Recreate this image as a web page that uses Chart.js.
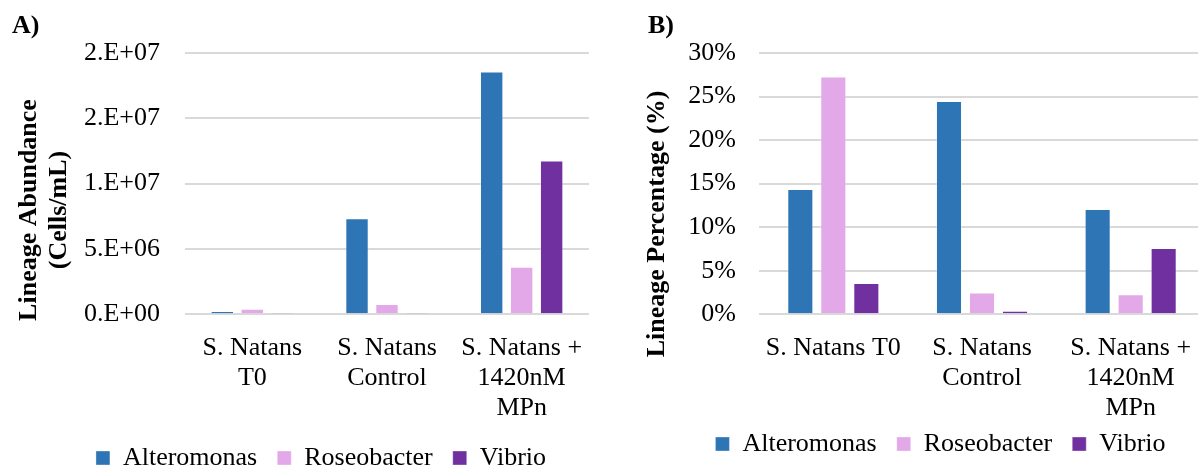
<!DOCTYPE html>
<html>
<head>
<meta charset="utf-8">
<script src="https://cdn.jsdelivr.net/npm/chart.js@4"></script>
<style>
  html, body { margin: 0; padding: 0; background: #fff; overflow: hidden; width: 1198px; height: 471px; }
  #wrapA { position: absolute; left: 0; top: 0; }
  #wrapB { position: absolute; left: 600px; top: 0; }
  canvas { display: block; }
</style>
</head>
<body>
<div id="wrapA"><canvas id="chartA" width="589" height="481" style="width:589px;height:481px"></canvas></div>
<div id="wrapB"><canvas id="chartB" width="605" height="481" style="width:605px;height:481px"></canvas></div>
<script>
// ---------------- data ----------------
const seriesNames = ["Alteromonas", "Roseobacter", "Vibrio"];
const categoriesA = [["S. Natans", "T0"], ["S. Natans", "Control"], ["S. Natans +", "1420nM", "MPn"]];
const categoriesB = ["S. Natans T0", ["S. Natans", "Control"], ["S. Natans +", "1420nM", "MPn"]];

// Panel A: lineage abundance (cells/mL)
const alteromonasA = [250000, 7360000, 18580000];
const roseobacterA = [430000, 790000, 3640000];
const vibrioA = [60000, 110000, 11770000];
const yTicksA = ["0.E+00", "5.E+06", "1.E+07", "2.E+07", "2.E+07"];

// Panel B: lineage percentage (%)
const alteromonasB = [14.4, 24.5, 12.1];
const roseobacterB = [27.3, 2.5, 2.3];
const vibrioB = [3.6, 0.4, 7.6];
const yTicksB = ["0%", "5%", "10%", "15%", "20%", "25%", "30%"];

const colors = ["#2E75B6", "#E2A8E8", "#7030A0"];
const FONT = "'Liberation Serif', 'Times New Roman', serif";

// plugin drawing panel letters and axis titles, and nudging the legend
const panelText = {
  id: 'panelText',
  afterLayout(chart, args, opts) {
    const lg = chart.legend;
    if (lg && opts.legendShift) {
      lg.top -= opts.legendShift;
      lg.bottom -= opts.legendShift;
    }
  },
  afterDraw(chart, args, opts) {
    const ctx = chart.ctx;
    ctx.save();
    ctx.fillStyle = '#000';
    ctx.font = "bold 26px " + FONT;
    ctx.textAlign = 'left';
    ctx.textBaseline = 'alphabetic';
    ctx.fillText(opts.letter, opts.letterX, opts.letterY);
    ctx.font = "bold 26px " + FONT;
    ctx.textAlign = 'center';
    ctx.textBaseline = 'middle';
    opts.titleLines.forEach((line, i) => {
      ctx.save();
      ctx.translate(opts.titleX + i * 30, opts.titleY);
      ctx.rotate(-Math.PI / 2);
      ctx.fillText(line, 0, 0);
      ctx.restore();
    });
    ctx.restore();
  }
};

function makeChart(id, cats, data, ticks, cfg) {
  return new Chart(document.getElementById(id), {
    type: 'bar',
    data: {
      labels: cats,
      datasets: seriesNames.map((n, i) => ({
        label: n,
        data: data[i],
        backgroundColor: colors[i],
        borderColor: 'rgba(255,255,255,0.35)',
        borderWidth: 1,
        categoryPercentage: cfg.catPct,
        barPercentage: cfg.barPct
      }))
    },
    options: {
      responsive: false,
      animation: false,
      events: [],
      layout: { padding: { left: cfg.padL, right: 0, top: 53, bottom: 0 } },
      scales: {
        x: {
          grid: { display: false },
          border: { display: false },
          ticks: {
            color: '#000',
            font: { family: FONT, size: 26, lineHeight: 1.15 },
            padding: 11,
            maxRotation: 0,
            minRotation: 0,
            autoSkip: false
          },
          afterFit(scale) {
            scale.height = 110.7;
            scale.paddingLeft = 0;
            scale.paddingRight = 0;
          }
        },
        y: {
          min: 0,
          max: cfg.max,
          grid: { color: '#d9d9d9', lineWidth: 2, drawTicks: false },
          border: { display: false },
          ticks: {
            stepSize: cfg.step,
            color: '#000',
            font: { family: FONT, size: 26 },
            padding: cfg.tickPad,
            callback: (v, i) => ticks[i]
          },
          afterFit(scale) { scale.width = cfg.yW; }
        }
      },
      plugins: {
        legend: {
          position: 'bottom',
          labels: {
            color: '#000',
            font: { family: FONT, size: 26 },
            boxWidth: 14,
            boxHeight: 14,
            padding: 20
          }
        },
        tooltip: { enabled: false },
        panelText: cfg.text
      }
    },
    plugins: [panelText]
  });
}

makeChart('chartA', categoriesA, [alteromonasA, roseobacterA, vibrioA], yTicksA, {
  catPct: 0.668, barPct: 0.78, padL: 53, max: 20000000, step: 5000000,
  tickPad: 25, yW: 132,
  text: { letter: 'A)', letterX: 12, letterY: 33, titleLines: ['Lineage Abundance', '(Cells/mL)'], titleX: 29, titleY: 210, legendShift: 0 }
});

makeChart('chartB', categoriesB, [alteromonasB, roseobacterB, vibrioB], yTicksB, {
  catPct: 0.666, barPct: 0.79, padL: 76, max: 30, step: 5,
  tickPad: 23, yW: 83,
  text: { letter: 'B)', letterX: 48, letterY: 33, titleLines: ['Lineage Percentage (%)'], titleX: 57, titleY: 224, legendShift: 14 }
});
</script>
</body>
</html>
